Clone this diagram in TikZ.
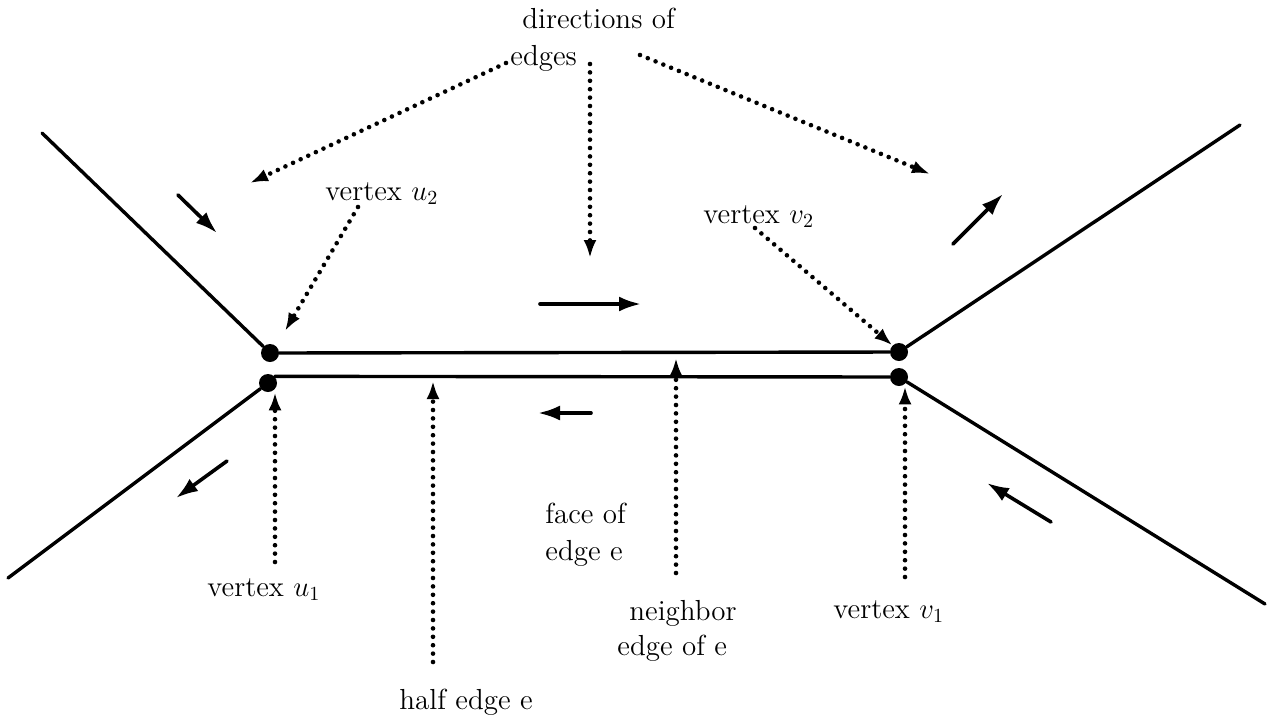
\documentclass[tikz,border=0pt]{standalone}
\usetikzlibrary{arrows.meta}
\begin{document}
\begin{tikzpicture}[x=0.5pt,y=-0.5pt,
  edge/.style={line width=1.7pt, line cap=round},
  dirarrow/.style={line width=1.8pt, line cap=round, -{Latex[length=11pt,width=7.5pt]}},
  ptr/.style={line width=2.3pt, line cap=round, dash pattern=on 0pt off 4.2pt, -{Latex[length=9pt,width=6.5pt]}},
  dot/.style={circle, fill=black, inner sep=0pt, minimum size=9pt},
  lab/.style={font=\fontsize{14.5}{18.5}\selectfont, inner sep=0pt, anchor=base west}]
\useasboundingbox (0,0) rectangle (1274,724);

% vertices
\node[dot] (u2) at (270,353) {};
\node[dot] (u1) at (268,383) {};
\node[dot] (v2) at (899,352) {};
\node[dot] (v1) at (899,377) {};

% outer end points
\coordinate (ulend) at (42,133);
\coordinate (llend) at (8,578);
\coordinate (urend) at (1240,125);
\coordinate (lrend) at (1265,604);

% edges
\draw[edge] (ulend) -- (u2);
\draw[edge] (u1) -- (llend);
\draw[edge] (v2) -- (urend);
\draw[edge] (v1) -- (lrend);
\draw[edge] (u2) -- (v2);
\draw[edge] (u1.45) -- (v1);

% direction arrows
\coordinate (d1a) at (178,195); \coordinate (d1b) at (217,233);
\coordinate (d2a) at (953,244); \coordinate (d2b) at (1003,194);
\coordinate (d3a) at (227,461); \coordinate (d3b) at (176,498);
\coordinate (d4a) at (1051,522); \coordinate (d4b) at (987,483);
\coordinate (d5a) at (540,304); \coordinate (d5b) at (641,304);
\coordinate (d6a) at (591,413); \coordinate (d6b) at (538,413);
\draw[dirarrow] (d1a) -- (d1b);
\draw[dirarrow] (d2a) -- (d2b);
\draw[dirarrow] (d3a) -- (d3b);
\draw[dirarrow] (d4a) -- (d4b);
\draw[dirarrow] (d5a) -- (d5b);
\draw[dirarrow] (d6a) -- (d6b);

% labels
\node[lab] (dirs) at (522,28) {directions of};
\node[lab] (edg) at (510,65) {edges};
\node[lab] (u2lab) at (325,200) {vertex $u_2$};
\node[lab] (v2lab) at (703,223) {vertex $v_2$};
\node[lab] (u1lab) at (207,596) {vertex $u_1$};
\node[lab] (face1) at (545,523) {face of};
\node[lab] (face2) at (545,560) {edge e};
\node[lab] (nb1) at (629,620) {neighbor};
\node[lab] (nb2) at (617,655) {edge of e};
\node[lab] (v1lab) at (833,618) {vertex $v_1$};
\node[lab] (hlab) at (399,709) {half edge e};

% pointer start / end points
\coordinate (p1s) at (506,63);  \coordinate (p1e) at (250,183);
\coordinate (p2s) at (590,64);  \coordinate (p2e) at (590,258);
\coordinate (p3s) at (640,55);  \coordinate (p3e) at (930,174);
\coordinate (p4s) at (358,207); \coordinate (p4e) at (285,331);
\coordinate (p5s) at (755,228);
\coordinate (p6s) at (275,562);
\coordinate (p7s) at (433,662); \coordinate (p7e) at (433,381);
\coordinate (p8s) at (676,573); \coordinate (p8e) at (676,358);
\coordinate (p9s) at (905,577);

% pointers
\draw[ptr] (p1s) -- (p1e);
\draw[ptr] (p2s) -- (p2e);
\draw[ptr] (p3s) -- (p3e);
\draw[ptr] (p4s) -- (p4e);
\draw[ptr] (p5s) -- (v2.north west);
\draw[ptr] (p6s) -- (p6s |- u1.south);
\draw[ptr] (p7s) -- (p7e);
\draw[ptr] (p8s) -- (p8e);
\draw[ptr] (p9s) -- (p9s |- v1.south);
\end{tikzpicture}
\end{document}
